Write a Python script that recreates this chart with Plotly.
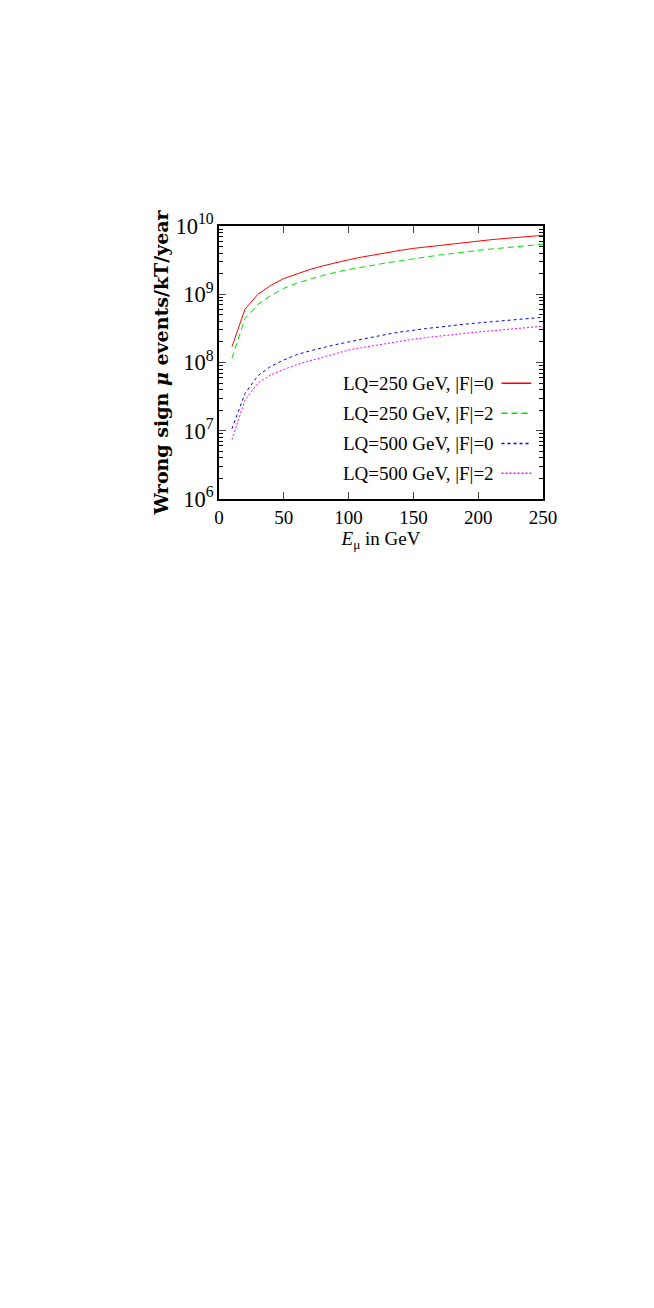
import plotly.graph_objects as go

# muon energy grid (GeV)
e_mu = [10, 20, 30, 40, 50, 60, 70, 80, 90, 100, 110, 120, 130, 140, 150,
        160, 170, 180, 190, 200, 210, 220, 230, 240, 250]

# wrong sign mu events / kT / year
lq250_f0 = [1.7e8, 6.0e8, 1.0e9, 1.35e9, 1.7e9, 2.0e9, 2.3e9, 2.6e9, 2.9e9, 3.2e9,
            3.5e9, 3.8e9, 4.1e9, 4.4e9, 4.7e9, 4.95e9, 5.2e9, 5.5e9, 5.75e9, 6.0e9,
            6.3e9, 6.55e9, 6.8e9, 7.05e9, 7.3e9]
lq250_f2 = [1.15e8, 4.4e8, 7.1e8, 9.6e8, 1.22e9, 1.45e9, 1.67e9, 1.88e9, 2.1e9, 2.3e9,
            2.5e9, 2.7e9, 2.9e9, 3.1e9, 3.33e9, 3.55e9, 3.75e9, 3.95e9, 4.2e9, 4.4e9,
            4.6e9, 4.8e9, 5.0e9, 5.2e9, 5.4e9]
lq500_f0 = [1.07e7, 3.5e7, 6.4e7, 8.8e7, 1.09e8, 1.3e8, 1.48e8, 1.66e8, 1.83e8, 2.0e8,
            2.2e8, 2.4e8, 2.6e8, 2.8e8, 3.0e8, 3.15e8, 3.3e8, 3.5e8, 3.65e8, 3.8e8,
            3.95e8, 4.1e8, 4.3e8, 4.45e8, 4.6e8]
lq500_f2 = [7.4e6, 2.8e7, 5.0e7, 6.6e7, 7.9e7, 9.3e7, 1.06e8, 1.2e8, 1.36e8, 1.52e8,
            1.65e8, 1.78e8, 1.92e8, 2.06e8, 2.2e8, 2.32e8, 2.45e8, 2.57e8, 2.68e8, 2.8e8,
            2.92e8, 3.04e8, 3.16e8, 3.28e8, 3.4e8]

series_names = ['LQ=250 GeV, |F|=0', 'LQ=250 GeV, |F|=2',
                'LQ=500 GeV, |F|=0', 'LQ=500 GeV, |F|=2']
series_vals = [lq250_f0, lq250_f2, lq500_f0, lq500_f2]
colors = ['#ff0000', '#00e000', '#0000ff', '#ff00ff']
dashes = ['solid', '6px,4px', '3px,3px', '2px,2px']

FONT = 'Liberation Serif'

fig = go.Figure()
for name, vals, c, d in zip(series_names, series_vals, colors, dashes):
    fig.add_trace(go.Scatter(x=e_mu, y=vals, mode='lines', name=name,
                             line=dict(color=c, width=1, dash=d), showlegend=False))

# gnuplot-like key: text on the left, sample line on the right
key_y = [0.424, 0.314, 0.203, 0.094]
for name, c, d, ky in zip(series_names, colors, dashes, key_y):
    fig.add_annotation(x=0.855, y=ky, xref='paper', yref='paper', text=name,
                       showarrow=False, xanchor='right', yanchor='middle',
                       font=dict(family=FONT, size=19, color='black'))
    fig.add_shape(type='line', xref='paper', yref='paper', x0=0.872, x1=0.964, y0=ky, y1=ky,
                  line=dict(color=c, width=1.5, dash=d))

# the page body has an 8px margin, so the plot box is shifted back by it
fig.update_layout(
    width=654, height=1308,
    margin=dict(l=211, r=119, t=218, b=817),
    paper_bgcolor='white', plot_bgcolor='white',
    font=dict(family=FONT, size=19, color='black'),
    xaxis=dict(range=[0, 250], dtick=50, ticks='inside', ticklen=7, tickwidth=1,
               showline=True, linecolor='black', linewidth=1.5, mirror='allticks',
               showgrid=False, zeroline=False,
               tickfont=dict(family=FONT, size=19),
               title=dict(text='<i>E</i><sub>μ</sub> in GeV', standoff=0,
                          font=dict(family=FONT, size=19))),
    yaxis=dict(type='log', range=[6, 10], dtick=1, exponentformat='power',
               ticks='inside', ticklen=7, tickwidth=1,
               minor=dict(ticks='inside', ticklen=4, tickcolor='black', showgrid=False),
               showline=True, linecolor='black', linewidth=1.5, mirror='allticks',
               showgrid=False, zeroline=False,
               tickfont=dict(family=FONT, size=18),
               title=dict(text='<b>Wrong sign <i>μ</i> events/kT/year</b>', standoff=2,
                          font=dict(family='DejaVu Serif', size=19))),
)

fig.write_html('out.html')
